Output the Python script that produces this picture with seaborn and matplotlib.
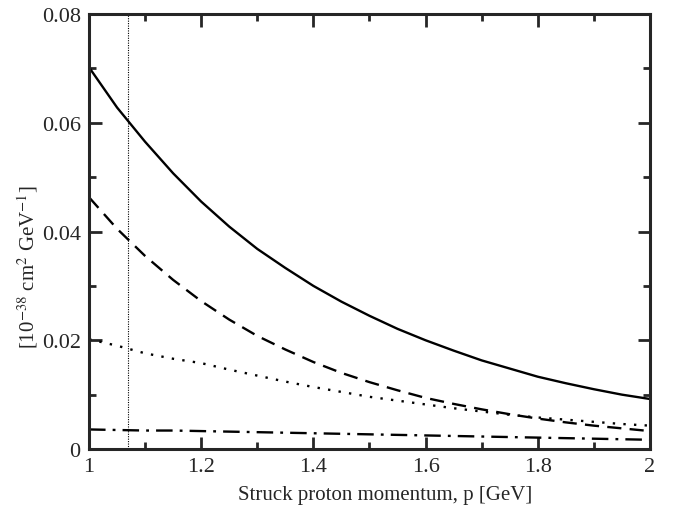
import numpy as np
import pandas as pd
import seaborn as sns
import matplotlib
matplotlib.use("Agg")
import matplotlib.pyplot as plt
from matplotlib.ticker import MultipleLocator

# ---- data ----
p = [1.00, 1.05, 1.10, 1.15, 1.20, 1.25, 1.30, 1.35, 1.40, 1.45, 1.50,
     1.55, 1.60, 1.65, 1.70, 1.75, 1.80, 1.85, 1.90, 1.95, 2.00]
solid_vals = [0.0702, 0.0628, 0.0565, 0.0507, 0.0455, 0.0409, 0.0368, 0.0333, 0.0300, 0.0271, 0.0245,
              0.0221, 0.0200, 0.0181, 0.0163, 0.0148, 0.0133, 0.0121, 0.0110, 0.0100, 0.0092]
dashed_vals = [0.0463, 0.0405, 0.0355, 0.0311, 0.0272, 0.0238, 0.0208, 0.0183, 0.0160, 0.0140, 0.0123,
               0.0108, 0.0094, 0.0083, 0.0073, 0.0064, 0.0056, 0.0049, 0.0043, 0.0038, 0.0033]
dotted_vals = [0.0202, 0.0190, 0.0176, 0.0166, 0.0158, 0.0146, 0.0135, 0.0124, 0.0114, 0.0105, 0.0096,
               0.0089, 0.0082, 0.0075, 0.0069, 0.0063, 0.0058, 0.0054, 0.0050, 0.0046, 0.0043]
dashdot_vals = [0.0036, 0.0035, 0.0034, 0.0034, 0.0033, 0.0032, 0.0031, 0.0030, 0.0029, 0.0028, 0.0027,
                0.0026, 0.0025, 0.0024, 0.0023, 0.0022, 0.0021, 0.0020, 0.0019, 0.0018, 0.0017]
p_cut = 1.07
x_ticks = [1.0, 1.2, 1.4, 1.6, 1.8, 2.0]
x_tick_labels = ["1", "1.2", "1.4", "1.6", "1.8", "2"]
y_ticks = [0.0, 0.02, 0.04, 0.06, 0.08]
y_tick_labels = ["0", "0.02", "0.04", "0.06", "0.08"]

sns.set_style("ticks")
plt.rcParams["font.family"] = ["Liberation Serif", "DejaVu Serif"]
plt.rcParams["mathtext.fontset"] = "stix"

fig = plt.figure(figsize=(6.77, 5.10), dpi=100)
ax = fig.add_axes([0.1315, 0.1176, 0.8285, 0.853])

series = [
    (solid_vals, "-"),
    (dashed_vals, (0, (6, 3.5))),
    (dotted_vals, (0, (1, 3.5))),
    (dashdot_vals, (0, (7, 3, 1.2, 3))),
]
for vals, ls in series:
    df = pd.DataFrame({"p": p, "v": vals})
    sns.lineplot(data=df, x="p", y="v", ax=ax, color="black", lw=1.7,
                 linestyle=ls, legend=False)

ax.axvline(p_cut, color="black", lw=0.8, linestyle=(0, (1, 1.2)))

ax.set_xlim(1.0, 2.0)
ax.set_ylim(0.0, 0.08)
ax.set_xticks(x_ticks)
ax.set_xticklabels(x_tick_labels)
ax.set_yticks(y_ticks)
ax.set_yticklabels(y_tick_labels)
ax.xaxis.set_minor_locator(MultipleLocator(0.1))
ax.yaxis.set_minor_locator(MultipleLocator(0.01))
ax.tick_params(which="both", direction="in", top=True, right=True,
               labelsize=16, width=2, pad=6)
ax.tick_params(which="major", length=9)
ax.tick_params(which="minor", length=5)
for s in ax.spines.values():
    s.set_linewidth(2.2)
    s.set_visible(True)

ax.set_xlabel("Struck proton momentum, p [GeV]", fontsize=15)
ax.xaxis.set_label_coords(0.528, -0.083)
ax.set_ylabel(r"[10$^{-38}$ cm$^{2}$ GeV$^{-1}$]", fontsize=15)
ax.yaxis.set_label_coords(-0.088, 0.42)

fig.savefig("out.png", dpi=100)
